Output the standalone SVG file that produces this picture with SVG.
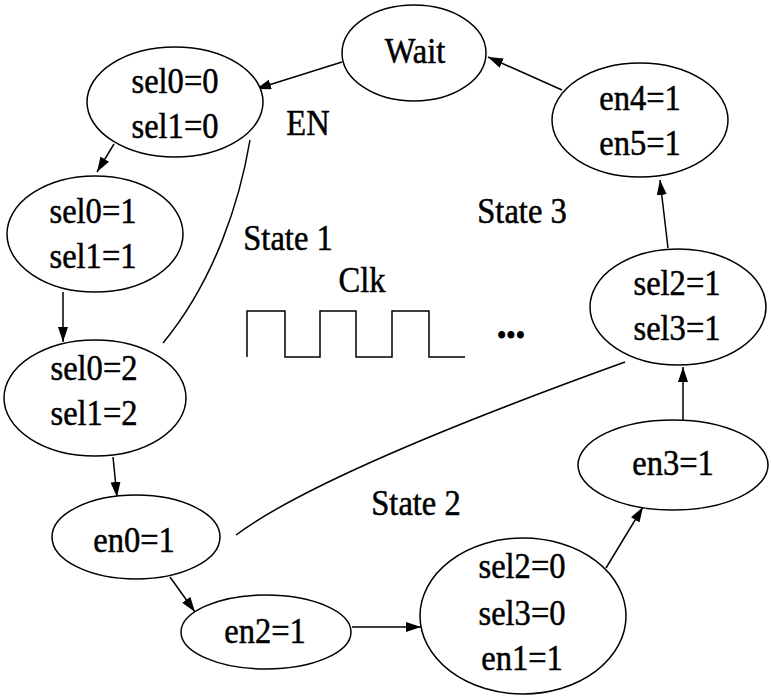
<svg xmlns="http://www.w3.org/2000/svg" width="771" height="699" viewBox="0 0 771 699">
<defs>
<marker id="ah" markerUnits="userSpaceOnUse" markerWidth="17" markerHeight="12" refX="15" refY="5" orient="auto">
<path d="M0,0 L15,5 L0,10 z" fill="#000"/>
</marker>
<style>
.n{fill:#fff;stroke:#000;stroke-width:1.5}
text{font-family:"Liberation Serif","Times New Roman",serif;font-size:35px;fill:#000;stroke:#000;stroke-width:0.5;text-anchor:middle;transform-box:fill-box;transform-origin:center;transform:scaleX(0.93)}
.d{font-weight:bold;font-size:40px;stroke-width:1}
.e{fill:none;stroke:#000;stroke-width:1.5}
.a{fill:none;stroke:#000;stroke-width:1.5;marker-end:url(#ah)}
</style>
</defs>
<rect width="771" height="699" fill="#fff"/>
<g id="connectors">
<line class="a" x1="342" y1="62" x2="256" y2="89"/>
<line class="a" x1="114" y1="144" x2="97" y2="172"/>
<line class="a" x1="63" y1="292" x2="63" y2="342"/>
<line class="a" x1="113" y1="457" x2="117" y2="497"/>
<line class="a" x1="170" y1="577" x2="195" y2="612"/>
<line class="a" x1="352" y1="627" x2="421" y2="627"/>
<line class="a" x1="606" y1="568" x2="643" y2="507"/>
<line class="a" x1="683" y1="423" x2="683" y2="367"/>
<line class="a" x1="668" y1="248" x2="660" y2="180"/>
<line class="a" x1="562" y1="90" x2="488" y2="57"/>
<path class="e" d="M250,140 C240,200 215,280 163,343"/>
<path class="e" d="M236,535 Q320,472 625,362"/>
</g>
<g id="wait"><ellipse class="n" cx="414" cy="53" rx="72" ry="48"/><text x="415" y="63">Wait</text></g>
<g id="s00"><ellipse class="n" cx="175" cy="102" rx="88" ry="55"/><text x="175" y="93">sel0=0</text><text x="175" y="138">sel1=0</text></g>
<g id="s11"><ellipse class="n" cx="95" cy="234" rx="88" ry="58"/><text x="93" y="223">sel0=1</text><text x="93" y="268">sel1=1</text></g>
<g id="s22"><ellipse class="n" cx="95" cy="398" rx="91" ry="58"/><text x="94" y="380">sel0=2</text><text x="94" y="425">sel1=2</text></g>
<g id="en0"><ellipse class="n" cx="136" cy="537" rx="84" ry="42"/><text x="134" y="552">en0=1</text></g>
<g id="en2"><ellipse class="n" cx="266" cy="632" rx="85" ry="37"/><text x="265" y="643">en2=1</text></g>
<g id="s2_0"><ellipse class="n" cx="523" cy="616" rx="103" ry="78"/><text x="522" y="578">sel2=0</text><text x="522" y="625">sel3=0</text><text x="522" y="670">en1=1</text></g>
<g id="en3"><ellipse class="n" cx="673" cy="465" rx="95" ry="45"/><text x="673" y="475">en3=1</text></g>
<g id="s2_1"><ellipse class="n" cx="678" cy="307" rx="88" ry="58"/><text x="677" y="295">sel2=1</text><text x="677" y="340">sel3=1</text></g>
<g id="en4"><ellipse class="n" cx="640" cy="120" rx="88" ry="57"/><text x="640" y="110">en4=1</text><text x="640" y="155">en5=1</text></g>
<g id="labels">
<text x="308" y="135">EN</text>
<text x="288" y="250">State 1</text>
<text x="522" y="223">State 3</text>
<text x="416" y="515">State 2</text>
<text x="362" y="292">Clk</text>
<text class="d" x="511" y="338">...</text>
</g>
<g id="clock">
<path class="e" d="M247,357 V311 H285 V357 H320 V311 H356 V357 H392 V311 H429 V357 H465"/>
</g>
</svg>
